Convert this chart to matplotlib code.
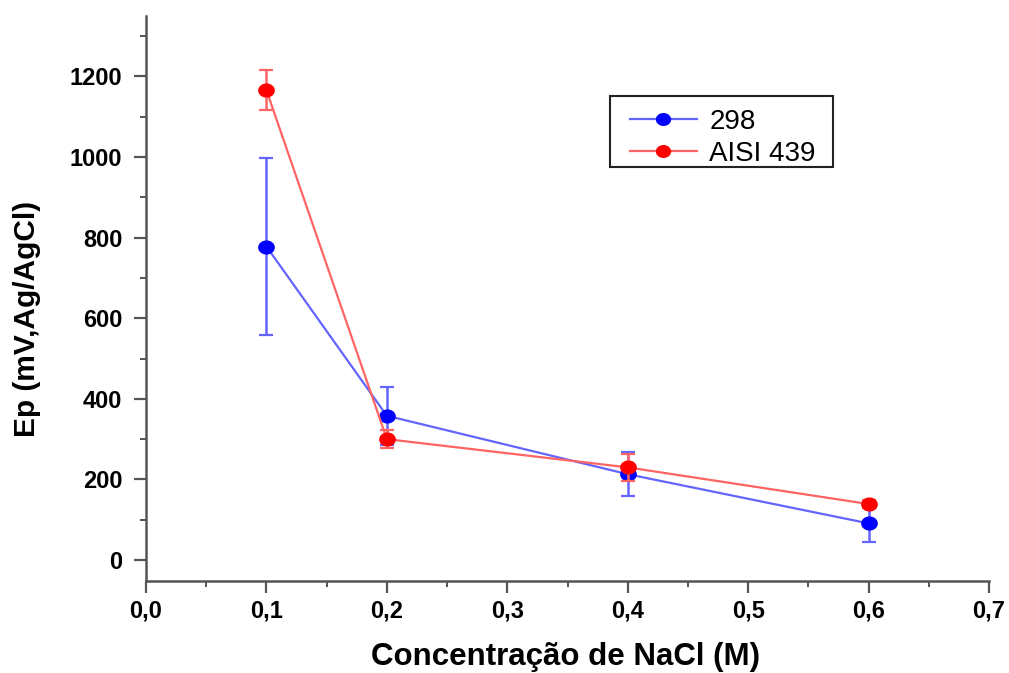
import matplotlib
matplotlib.use("Agg")
import matplotlib.pyplot as plt
from matplotlib.path import Path
from matplotlib.lines import Line2D
from matplotlib.patches import Rectangle
from matplotlib.ticker import MultipleLocator, FuncFormatter
import numpy as np

conc = [0.1, 0.2, 0.4, 0.6]
ep_298 = [778, 358, 213, 91]
err_298 = [220, 72, 55, 46]
ep_439 = [1166, 300, 230, 139]
err_439 = [50, 23, 33, 10]
labels = ["298", "AISI 439"]

plt.rcParams['font.family'] = ['Liberation Sans', 'DejaVu Sans']

fig = plt.figure(figsize=(10.09, 6.73), dpi=100)
ax = fig.add_axes([146 / 1009, 1 - 581 / 673, 843 / 1009, 565 / 673])

t = np.linspace(0, 2 * np.pi, 60)
ell = Path(np.column_stack([1.2 * np.cos(t), np.sin(t)]), closed=True)

blue_line, blue_mk = '#6464ff', '#0000ff'
red_line, red_mk = '#ff6464', '#ff0000'

ax.errorbar(conc, ep_298, yerr=err_298, color=blue_line, lw=1.6,
            marker=ell, ms=11, mfc=blue_mk, mec=blue_mk,
            capsize=4.8, capthick=1.6, elinewidth=1.8, zorder=3)
ax.errorbar(conc, ep_439, yerr=err_439, color=red_line, lw=1.6,
            marker=ell, ms=11, mfc=red_mk, mec=red_mk,
            capsize=4.8, capthick=1.6, elinewidth=1.8, zorder=4)

ax.set_xlim(0, 0.7)
ax.set_ylim(-52, 1350)
ax.xaxis.set_major_locator(MultipleLocator(0.1))
ax.xaxis.set_minor_locator(MultipleLocator(0.05))
ax.yaxis.set_major_locator(MultipleLocator(200))
ax.yaxis.set_minor_locator(MultipleLocator(100))
ax.xaxis.set_major_formatter(FuncFormatter(lambda v, p: f"{v:.1f}".replace('.', ',')))
ax.yaxis.set_major_formatter(FuncFormatter(lambda v, p: f"{int(round(v))}"))

for s in ['top', 'right']:
    ax.spines[s].set_visible(False)
for s in ['left', 'bottom']:
    ax.spines[s].set_color('#555555')
    ax.spines[s].set_linewidth(1.8)
ax.tick_params(which='major', direction='out', length=8.5, width=1.6, color='#555555',
               labelsize=17)
ax.tick_params(axis='y', which='major', pad=8.5)
ax.tick_params(axis='x', which='major', pad=5)
ax.tick_params(which='minor', direction='out', length=4.5, width=1.4, color='#555555')
for lab in ax.get_xticklabels() + ax.get_yticklabels():
    lab.set_fontweight('bold')

ax.set_xlabel("Concentração de NaCl (M)", fontsize=22.5, fontweight='bold')
ax.set_ylabel("Ep (mV,Ag/AgCl)", fontsize=21.5, fontweight='bold')
ax.xaxis.set_label_coords(0.498, -0.108)
ax.yaxis.set_label_coords(-0.125, 0.463)

# legend frame (drawn as a box in axes coordinates)
W, H = 843.0, 565.0
bx0, by0, bx1, by1 = 610, 96, 833, 167
ax.add_patch(Rectangle(((bx0 - 146) / W, (581 - by1) / H), (bx1 - bx0) / W, (by1 - by0) / H,
                       transform=ax.transAxes, fill=True, facecolor='white',
                       edgecolor='#222222', lw=1.5, zorder=5, clip_on=False))

handles = [
    Line2D([], [], color=blue_line, lw=1.6, marker=ell, ms=10, mfc=blue_mk, mec=blue_mk),
    Line2D([], [], color=red_line, lw=1.6, marker=ell, ms=10, mfc=red_mk, mec=red_mk),
]
leg = ax.legend(handles, labels, loc='upper left',
                bbox_to_anchor=((630 - 146) / W, (581 - 109) / H),
                fontsize=20, frameon=False,
                handlelength=2.4, handletextpad=0.45, borderpad=0,
                labelspacing=0.22, borderaxespad=0)
leg.set_zorder(6)

fig.savefig("out.png", dpi=100)
